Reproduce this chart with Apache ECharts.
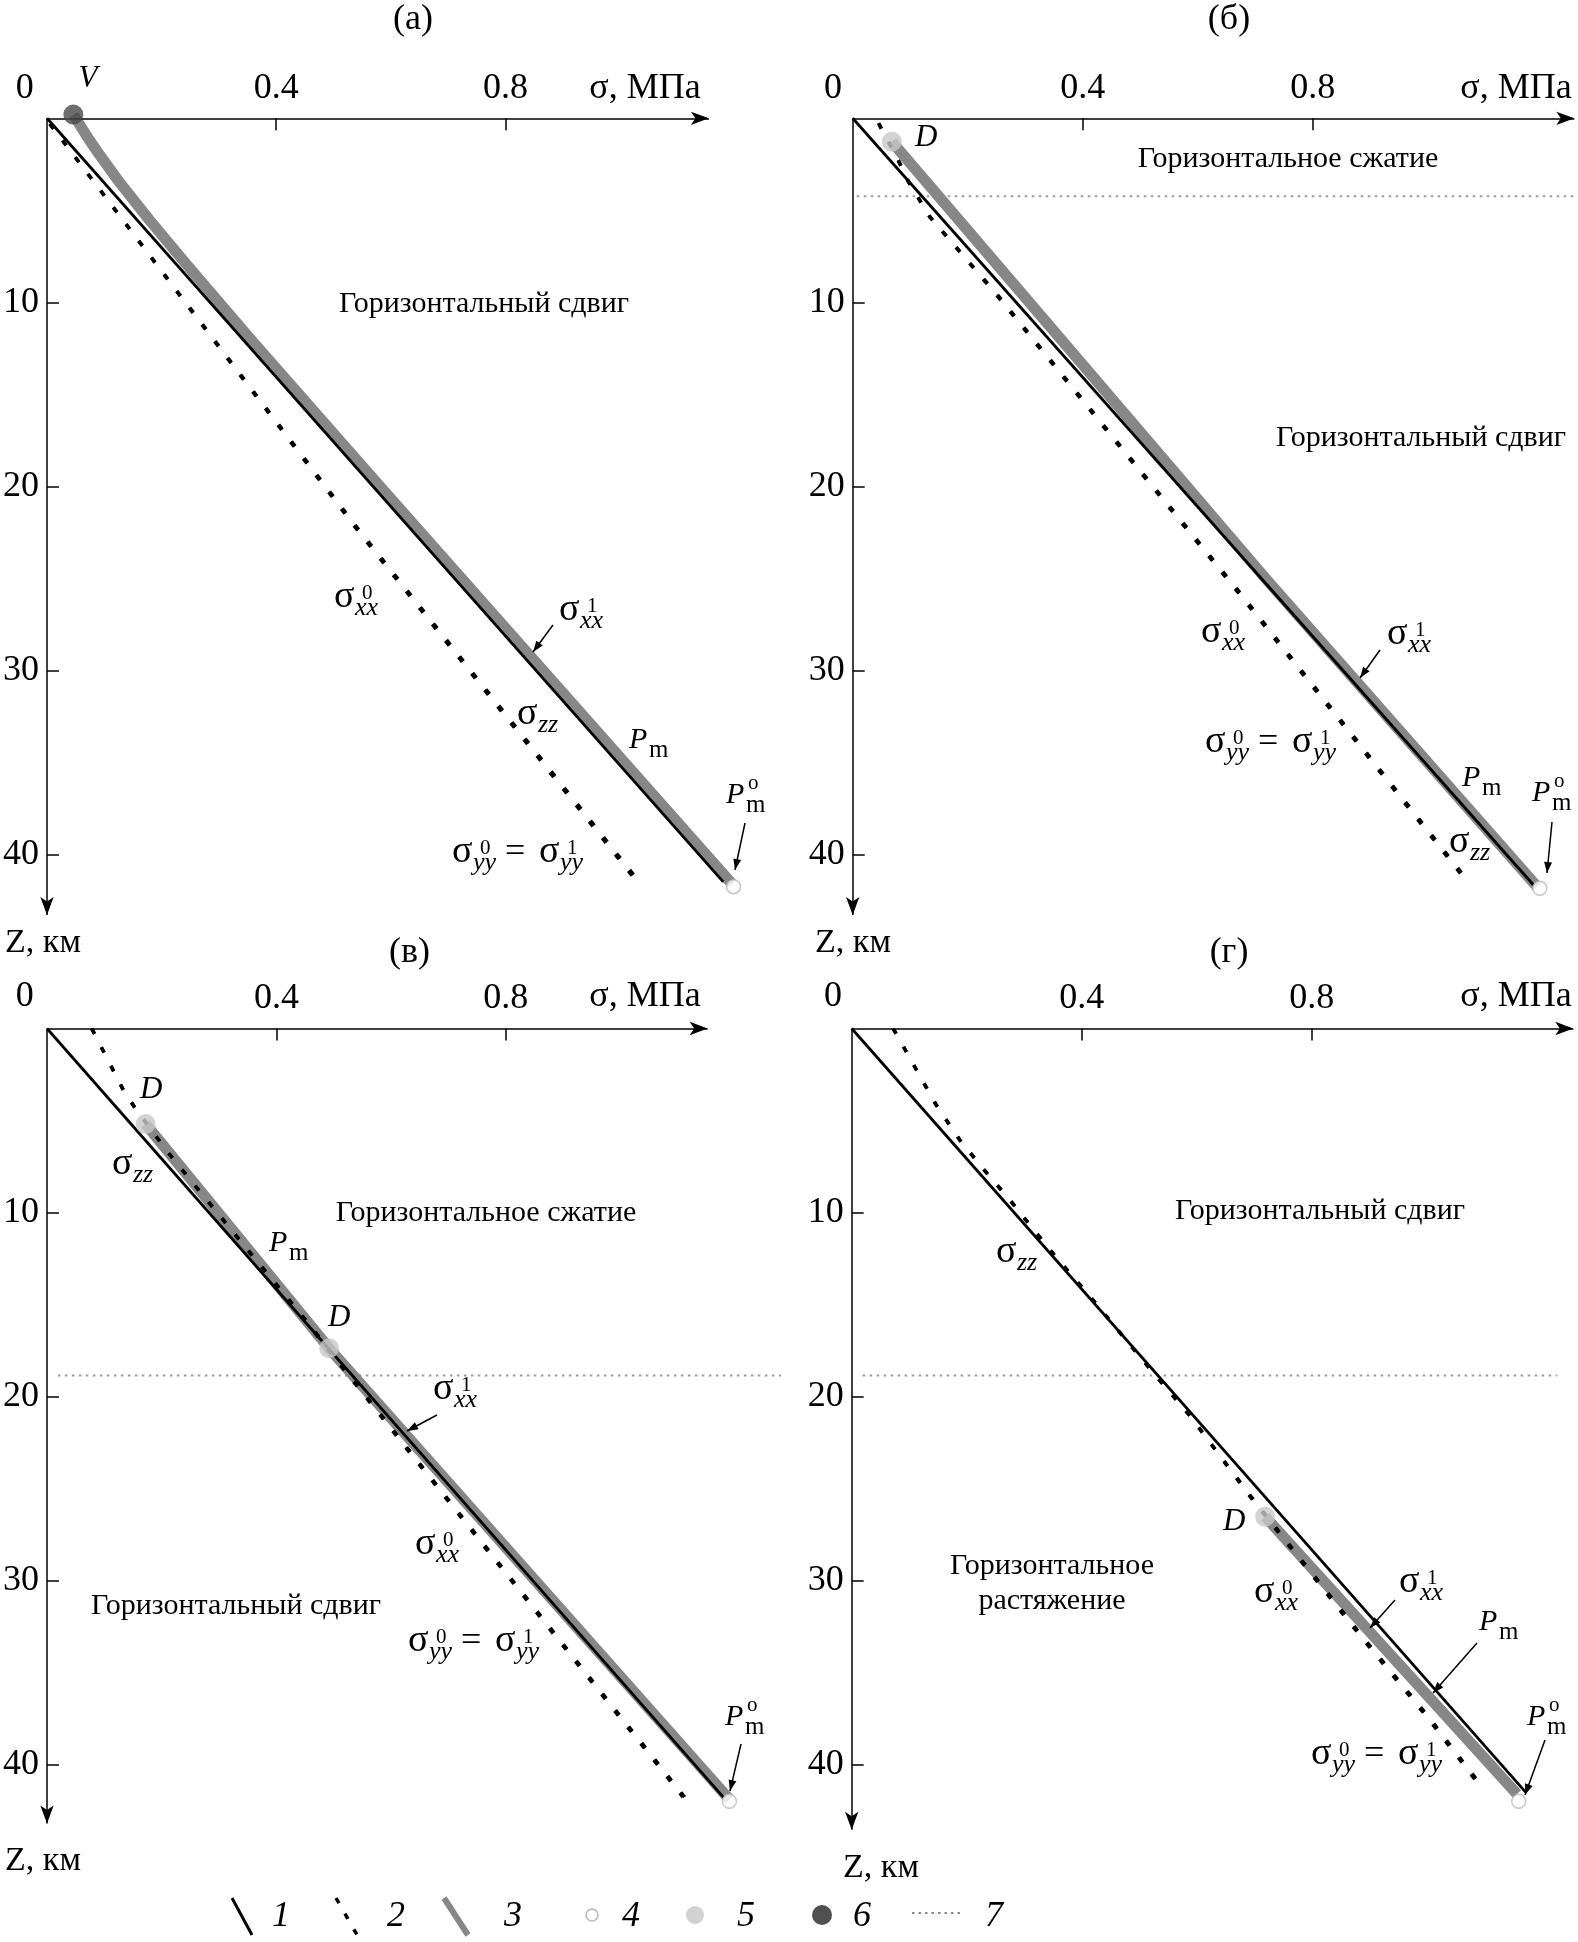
<!DOCTYPE html>
<html><head><meta charset="utf-8">
<script src="https://cdn.jsdelivr.net/npm/echarts@6/dist/echarts.min.js"></script>
<style>html,body{margin:0;padding:0;background:#fff}#c{width:1578px;height:1942px}</style>
</head><body><div id="c"></div>
<script>
// ---------- data ----------
const xTicks = [0.4, 0.8];
const zTicks = [10, 20, 30, 40];
// panel а
const a_sxx1 = [[0,0],[1.18,41.5]];
const a_Pm   = [[0.046,-0.2],[0.07,1.0],[0.092,2.0],[0.127,3.5],[0.178,5.5],[0.245,8.0],[0.355,12.0],[0.581,20.0],[1.195,41.6]];
const a_sxx0 = [[0.005,0.3],[0.537,22.2],[1.027,41.4]];
const a_syy  = [[0.005,0.3],[0.540,22.2],[1.031,41.4]];
const a_V    = [[0.046,-0.2]];
const a_Pm0  = [[1.198,41.76]];
// panel б
const b_sxx1 = [[0,0],[1.184,41.67]];
const b_Pm   = [[0.068,1.27],[0.72,25.08],[1.19,41.75]];
const b_sxx0 = [[0.045,0.27],[0.079,2.27],[0.097,3.45],[0.134,5.35],[0.25,9.6],[0.671,25.8],[1.071,41.6]];
const b_syy  = [[0.045,0.27],[0.079,2.27],[0.097,3.45],[0.134,5.35],[0.252,9.6],[0.674,25.8],[1.074,41.6]];
const b_D    = [[0.068,1.27]];
const b_Pm0  = [[1.195,41.85]];
const b_bound = [[0.007,4.23],[1.26,4.23]];
// panel в
const c_sxx1 = [[0,0],[1.18,41.8]];
const c_Pm   = [[0.172,5.19],[0.492,17.38],[1.19,41.9]];
const c_sxx0 = [[0.078,0],[0.133,3.34],[0.154,4.34],[0.212,6.78],[0.449,15.84],[1.109,41.77]];
const c_syy  = [[0.078,0],[0.133,3.34],[0.154,4.34],[0.212,6.78],[0.451,15.84],[1.112,41.77]];
const c_D    = [[0.172,5.19],[0.492,17.38]];
const c_Pm0  = [[1.19,42.0]];
const c_bound = [[0.019,18.86],[1.28,18.86]];
// panel г
const d_sxx1 = [[0,0],[1.172,41.5]];
const d_Pm   = [[0.719,26.53],[1.157,41.6]];
const d_sxx0 = [[0.072,0],[0.092,1.1],[0.111,2.16],[0.147,4.16],[0.188,6.06],[0.228,7.6],[0.275,9.32],[0.345,12.04],[0.422,14.85],[0.53,18.92],[0.587,21.0],[0.693,25.45],[0.89,33.23],[1.0,37.4],[1.098,41.39]];
const d_syy  = [[0.072,0],[0.092,1.1],[0.111,2.16],[0.147,4.16],[0.188,6.06],[0.228,7.6],[0.275,9.32],[0.345,12.04],[0.422,14.85],[0.53,18.92],[0.587,21.0],[0.695,25.45],[0.893,33.23],[1.003,37.4],[1.101,41.39]];
const d_D    = [[0.719,26.53]];
const d_Pm0  = [[1.16,42.0]];
const d_bound = [[0.019,18.86],[1.227,18.86]];

// ---------- layout ----------
const FONT = "'Liberation Serif','Times New Roman',serif";
const GREY = '#878787';
const PX = 575, PZ = 18.4, ZMAX = 44;
const G = [
  {left:44.5, top:118.3, xmax:1.30, ax:1.155, az:43.3},
  {left:852.7, top:118.3, xmax:1.26, ax:1.255, az:43.3},
  {left:45, top:1028.5, xmax:1.32, ax:1.152, az:43.2},
  {left:851.7, top:1028.5, xmax:1.26, ax:1.255, az:43.55}
];
const P = [
  {sxx1:a_sxx1, pm:a_Pm, sxx0:a_sxx0, syy:a_syy, pm0:a_Pm0, v:a_V, d:null, bound:null},
  {sxx1:b_sxx1, pm:b_Pm, sxx0:b_sxx0, syy:b_syy, pm0:b_Pm0, v:null, d:b_D, bound:b_bound},
  {sxx1:c_sxx1, pm:c_Pm, sxx0:c_sxx0, syy:c_syy, pm0:c_Pm0, v:null, d:c_D, bound:c_bound},
  {sxx1:d_sxx1, pm:d_Pm, sxx0:d_sxx0, syy:d_syy, pm0:d_Pm0, v:null, d:d_D, bound:d_bound}
];

const series = [];
P.forEach((p, i) => {
  const b = {xAxisIndex:i, yAxisIndex:i, animation:false, silent:true};
  series.push({...b, type:'line', data:p.pm, showSymbol:false, lineStyle:{color:GREY, width:11, join:'round'}, z:2});
  if (p.bound) series.push({...b, type:'line', data:p.bound, showSymbol:false, lineStyle:{color:'#9a9a9a', width:2, type:[2.5,4.5]}, z:1});
  series.push({...b, type:'line', data:p.sxx0, showSymbol:false, lineStyle:{color:'#000', width:3.5, type:[6,15]}, z:3});
  series.push({...b, type:'line', data:p.syy, showSymbol:false, lineStyle:{color:'#000', width:3.5, type:[6,15]}, z:3});
  series.push({...b, type:'line', data:p.sxx1, showSymbol:false, lineStyle:{color:'#000', width:2.8}, z:4,
    markLine:{silent:true, animation:false, symbol:['none','arrow'], symbolSize:[10,18],
      label:{show:false}, emphasis:{disabled:true},
      lineStyle:{color:'#000', width:1.5, type:'solid'},
      data:[[{coord:[0,0]},{coord:[G[i].ax,0]}],[{coord:[0,0]},{coord:[0,G[i].az]}]]}});
  if (p.d) series.push({...b, type:'scatter', data:p.d, symbolSize:20, clip:false, itemStyle:{color:'#c8c8c8'}, z:6});
  if (p.v) series.push({...b, type:'scatter', data:p.v, symbolSize:20, clip:false, itemStyle:{color:'#4a4a4a'}, z:6});
  series.push({...b, type:'scatter', data:p.pm0, symbolSize:14, clip:false, itemStyle:{color:'#fff', borderColor:'#b8b8b8', borderWidth:1.5}, z:6});
});

// ---------- annotation helpers ----------
const els = [];
function T(x, y, s, size, italic, align) {
  return {type:'text', x:x, y:y, silent:true, z:100,
    style:{text:s, fontSize:size, fontFamily:FONT, fontStyle:italic?'italic':'normal', fill:'#000',
      textAlign:align||'center', align:align||'center', textVerticalAlign:'middle', verticalAlign:'middle'}};
}
function TB(left, base, s, size, italic) { els.push(T(left, base - 0.34*size, s, size, italic, 'left')); }
function sig(left, base, sub, sup) {
  TB(left, base, 'σ', 38, false);
  TB(left + 21, base + 7, sub, 26, true);
  if (sup) TB(left + 28, base - 9, sup, 21, false);
}
function syyEq(left, base) {
  sig(left, base, 'yy', '0');
  TB(left + 53, base, '=', 36, false);
  sig(left + 87, base, 'yy', '1');
}
function Pm(left, base, sup) {
  TB(left, base, 'P', 30, true);
  TB(left + 20, base + 9, 'm', 25, false);
  if (sup) TB(left + 22, base - 14, 'o', 21, false);
}
function arrow(x1, y1, x2, y2) {
  els.push({type:'line', silent:true, z:100, shape:{x1:x1, y1:y1, x2:x2, y2:y2}, style:{stroke:'#000', lineWidth:1.5}});
  const dx = x2 - x1, dy = y2 - y1, L = Math.hypot(dx, dy), ux = dx / L, uy = dy / L;
  const hl = 11, hw = 4;
  const bx = x2 - ux * hl, by = y2 - uy * hl;
  els.push({type:'polygon', silent:true, z:100, shape:{points:[[x2,y2],[bx - uy*hw, by + ux*hw],[bx + uy*hw, by - ux*hw]]}, style:{fill:'#000'}});
}

// titles and axis texts
[[413,20,'(а)'],[1229,20,'(б)'],[409.5,953,'(в)'],[1229,953,'(г)']].forEach(t => els.push(T(t[0], t[1], t[2], 36, false)));
[[24.8,89],[833,89],[24.8,996.5],[833,996.5]].forEach(t => els.push(T(t[0], t[1], '0', 36, false)));
[[645,89],[1516,89],[645,996.5],[1516,996.5]].forEach(t => els.push(T(t[0], t[1], 'σ, МПа', 36, false)));
[[43,943],[853,943],[43,1861],[881,1868]].forEach(t => els.push(T(t[0], t[1], 'Z, км', 34, false)));

// regime labels
const RF = 30;
els.push(T(484, 304, 'Горизонтальный сдвиг', RF, false));
els.push(T(1288, 159, 'Горизонтальное сжатие', RF, false));
els.push(T(1421, 438, 'Горизонтальный сдвиг', RF, false));
els.push(T(486, 1213, 'Горизонтальное сжатие', RF, false));
els.push(T(236, 1606, 'Горизонтальный сдвиг', RF, false));
els.push(T(1320, 1211, 'Горизонтальный сдвиг', RF, false));
els.push(T(1052, 1566, 'Горизонтальное', RF, false));
els.push(T(1052, 1601, 'растяжение', RF, false));

// panel а labels
els.push(T(88, 79, 'V', 31, true));
sig(334, 610, 'xx', '0');
sig(559, 623, 'xx', '1'); arrow(553, 625, 533, 652);
sig(517, 727, 'zz', null);
Pm(629, 750, false);
Pm(726, 805, true); arrow(745, 823, 735, 870);
syyEq(452, 865);
// panel б labels
TB(915, 148, 'D', 31, true);
sig(1201, 645, 'xx', '0');
sig(1387, 647, 'xx', '1'); arrow(1380, 650, 1360, 678);
syyEq(1205, 755);
Pm(1462, 788, false);
Pm(1532, 803, true); arrow(1552, 822, 1547, 873);
sig(1449, 855, 'zz', null);
// panel в labels
TB(140, 1100, 'D', 31, true);
sig(112, 1177, 'zz', null);
Pm(269, 1253, false);
TB(328, 1328, 'D', 31, true);
sig(433, 1402, 'xx', '1'); arrow(437, 1415, 407, 1431);
sig(415, 1557, 'xx', '0');
syyEq(408, 1654);
Pm(725, 1727, true); arrow(741, 1744, 730, 1791);
// panel г labels
sig(996, 1265, 'zz', null);
TB(1223, 1532, 'D', 31, true);
sig(1254, 1605, 'xx', '0');
sig(1399, 1595, 'xx', '1'); arrow(1395, 1600, 1370, 1628);
Pm(1479, 1632, false); arrow(1477, 1643, 1433, 1693);
Pm(1527, 1727, true); arrow(1545, 1740, 1525, 1795);
syyEq(1311, 1767);

// legend
els.push({type:'line', silent:true, shape:{x1:232,y1:1898,x2:252,y2:1935}, style:{stroke:'#000', lineWidth:3}});
els.push({type:'line', silent:true, shape:{x1:336,y1:1898,x2:360,y2:1940}, style:{stroke:'#000', lineWidth:3.5, lineDash:[6,12]}});
els.push({type:'line', silent:true, shape:{x1:444,y1:1898,x2:468,y2:1935}, style:{stroke:GREY, lineWidth:6}});
els.push({type:'circle', silent:true, shape:{cx:592, cy:1915, r:6}, style:{fill:'#fff', stroke:'#b8b8b8', lineWidth:1.5}});
els.push({type:'circle', silent:true, shape:{cx:695, cy:1915, r:9}, style:{fill:'#d2d2d2'}});
els.push({type:'circle', silent:true, shape:{cx:822, cy:1915, r:10}, style:{fill:'#505050'}});
els.push({type:'line', silent:true, shape:{x1:912,y1:1913,x2:962,y2:1913}, style:{stroke:'#888', lineWidth:2, lineDash:[2.5,4]}});
[[281,'1'],[396,'2'],[513,'3'],[631,'4'],[746,'5'],[862,'6'],[994,'7']].forEach(t => els.push(T(t[0], 1917, t[1], 36, true)));

// ---------- chart ----------
const chart = echarts.init(document.getElementById('c'), null, {renderer:'canvas'});
chart.setOption({
  animation:false,
  backgroundColor:'#fff',
  grid: G.map(g => ({left:g.left, top:g.top, width:PX*g.xmax, height:PZ*ZMAX, containLabel:false})),
  xAxis: G.map((g, i) => ({gridIndex:i, type:'value', position:'top', min:0, max:g.xmax,
    axisLine:{show:false}, splitLine:{show:false},
    axisTick:{show:true, inside:true, length:12, customValues:xTicks, lineStyle:{color:'#000', width:1.5}},
    axisLabel:{show:true, customValues:xTicks, margin:12, fontSize:36, fontFamily:FONT, color:'#000'}})),
  yAxis: G.map((g, i) => ({gridIndex:i, type:'value', inverse:true, position:'left', min:0, max:ZMAX,
    axisLine:{show:false}, splitLine:{show:false},
    axisTick:{show:true, inside:true, length:12, customValues:zTicks, lineStyle:{color:'#000', width:1.5}},
    axisLabel:{show:true, customValues:zTicks, margin:8, fontSize:36, fontFamily:FONT, color:'#000'}})),
  series: series,
  graphic: els
});
</script></body></html>
